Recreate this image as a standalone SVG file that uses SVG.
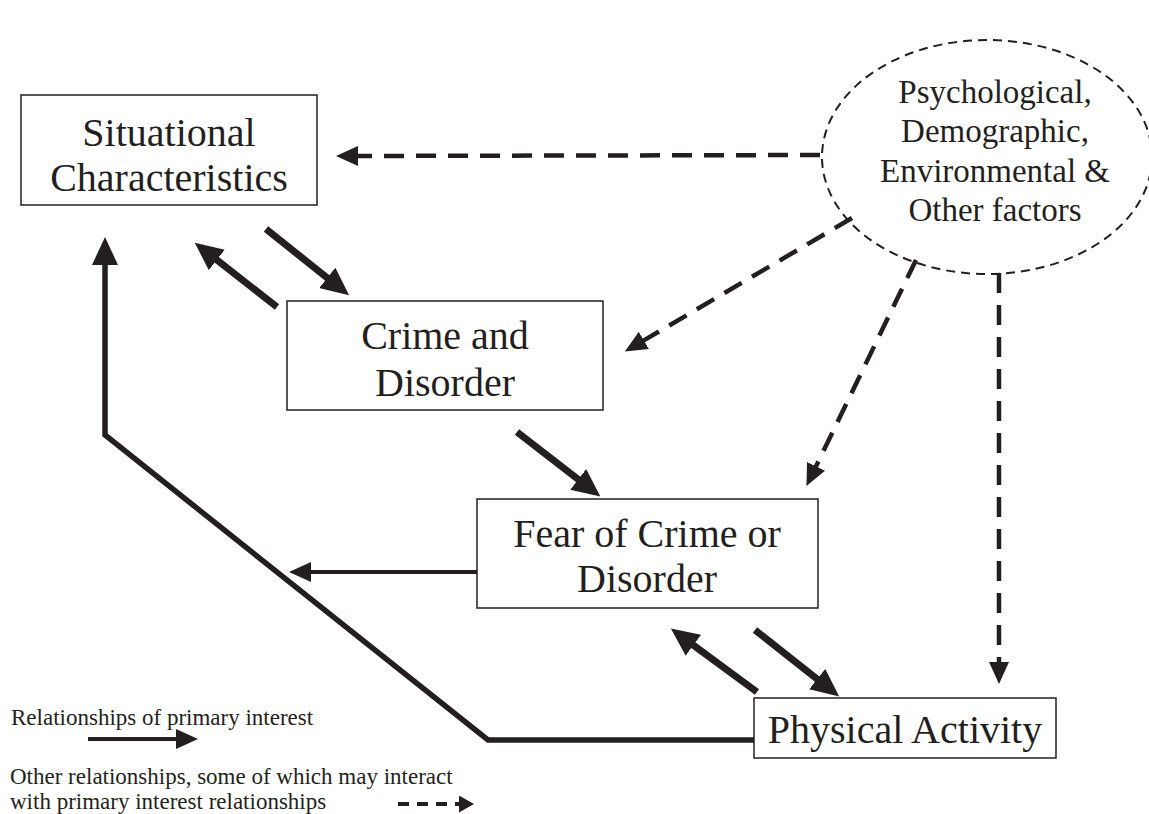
<svg xmlns="http://www.w3.org/2000/svg" width="1149" height="814" viewBox="0 0 1149 814">
<style>
.box{fill:#fff;stroke:#231f20;stroke-width:1.5}
.t{font-family:"Liberation Serif","Times New Roman",serif;fill:#231f20;text-anchor:middle}
.big{font-size:40px}
.mid{font-size:33px}
.leg{font-family:"Liberation Serif","Times New Roman",serif;fill:#231f20;font-size:23px}
.solid{stroke:#231f20;fill:none;stroke-width:7}
.dash{stroke:#231f20;fill:none;stroke-width:4.5;stroke-dasharray:20 12}
</style>
<defs>
<marker id="hb" markerUnits="userSpaceOnUse" viewBox="0 0 28 26" markerWidth="28" markerHeight="26" refX="1" refY="13" orient="auto"><path d="M0,0 L28,13 L0,26 z" fill="#231f20"/></marker>
<marker id="hd" markerUnits="userSpaceOnUse" viewBox="0 0 22 20" markerWidth="22" markerHeight="20" refX="1" refY="10" orient="auto"><path d="M0,0 L22,10 L0,20 z" fill="#231f20"/></marker>
<marker id="hs" markerUnits="userSpaceOnUse" viewBox="0 0 22 20" markerWidth="22" markerHeight="20" refX="1" refY="10" orient="auto"><path d="M0,0 L22,10 L0,20 z" fill="#231f20"/></marker>
<marker id="hl" markerUnits="userSpaceOnUse" viewBox="0 0 15 17" markerWidth="15" markerHeight="17" refX="1" refY="8.5" orient="auto"><path d="M0,0 L15,8.5 L0,17 z" fill="#231f20"/></marker>
</defs>
<rect width="1149" height="814" fill="#fff"/>
<g id="connectors">
<line class="solid" x1="266" y1="229" x2="328" y2="278.5" marker-end="url(#hb)"/>
<line class="solid" x1="277" y1="307" x2="216" y2="259.3" marker-end="url(#hb)"/>
<line class="solid" x1="517" y1="432" x2="579" y2="480" marker-end="url(#hb)"/>
<line class="solid" x1="757" y1="692" x2="692.6" y2="644.6" marker-end="url(#hb)"/>
<line class="solid" x1="755" y1="630" x2="818" y2="679.7" marker-end="url(#hb)"/>
<line stroke="#231f20" stroke-width="4" x1="477" y1="572" x2="310" y2="572" marker-end="url(#hs)"/>
<polyline fill="none" stroke="#231f20" stroke-width="5.5" stroke-linejoin="miter" points="754,740 488,740 105,435 105,264" marker-end="url(#hb)"/>
<line class="dash" x1="820" y1="155" x2="357" y2="156" marker-end="url(#hd)"/>
<line class="dash" x1="852" y1="218" x2="643" y2="340.9" marker-end="url(#hd)"/>
<line class="dash" x1="916" y1="260" x2="815.6" y2="467.2" marker-end="url(#hd)"/>
<line class="dash" x1="999" y1="273" x2="999" y2="663" marker-end="url(#hd)"/>
</g>
<g id="n-situational">
<rect class="box" x="21" y="95" width="296" height="110"/>
<text class="t big" x="169" y="146">Situational</text>
<text class="t big" x="169" y="191">Characteristics</text>
</g>
<g id="n-crime">
<rect class="box" x="287" y="301" width="316" height="109"/>
<text class="t big" x="445" y="349">Crime and</text>
<text class="t big" x="445" y="396">Disorder</text>
</g>
<g id="n-fear">
<rect class="box" x="477" y="499" width="341" height="109"/>
<text class="t big" x="647" y="547">Fear of Crime or</text>
<text class="t big" x="647" y="592">Disorder</text>
</g>
<g id="n-physical">
<rect class="box" x="754" y="698" width="302" height="60"/>
<text class="t big" x="905" y="743">Physical Activity</text>
</g>
<g id="n-factors">
<ellipse cx="987" cy="157" rx="165" ry="117" fill="none" stroke="#231f20" stroke-width="2" stroke-dasharray="9 6"/>
<text class="t mid" x="995" y="103">Psychological,</text>
<text class="t mid" x="995" y="142">Demographic,</text>
<text class="t mid" x="995" y="182">Environmental &amp;</text>
<text class="t mid" x="995" y="221">Other factors</text>
</g>
<g id="legend">
<text class="leg" x="11" y="725">Relationships of primary interest</text>
<line stroke="#231f20" stroke-width="4" x1="88" y1="739" x2="177" y2="739" marker-end="url(#hs)"/>
<text class="leg" x="10" y="784">Other relationships, some of which may interact</text>
<text class="leg" x="10" y="809">with primary interest relationships</text>
<line stroke="#231f20" stroke-width="4" stroke-dasharray="11 8" x1="398" y1="804" x2="460" y2="804" marker-end="url(#hl)"/>
</g>
</svg>
